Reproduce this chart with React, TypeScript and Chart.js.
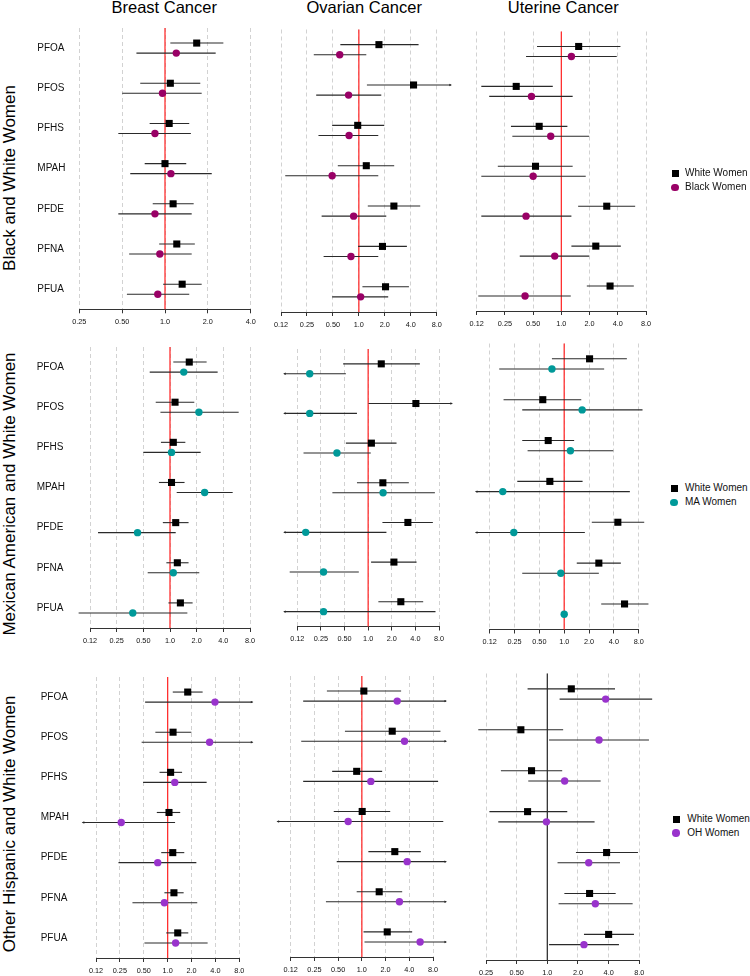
import React, { useEffect, useRef } from "react";
import { Chart, registerables } from "chart.js";

Chart.register(...registerables);

const FONT = '"Liberation Sans", Arial, Helvetica, sans-serif';

// ---------- labels ----------
const CHEMICALS = ["PFOA", "PFOS", "PFHS", "MPAH", "PFDE", "PFNA", "PFUA"];
const CANCERS = ["Breast Cancer", "Ovarian Cancer", "Uterine Cancer"];
const GROUPS = [
  "Black and White Women",
  "Mexican American and White Women",
  "Other Hispanic and White Women",
];
const REFERENCE_GROUP = "White Women";
const COMPARISON_GROUPS = ["Black Women", "MA Women", "OH Women"];
const COMPARISON_COLORS = ["#990066", "#009999", "#9933cc"];

// ---------- axis ticks ----------
const TICKS_FULL = [0.125, 0.25, 0.5, 1, 2, 4, 8];
const TICKS_QUARTER_TO_4 = [0.25, 0.5, 1, 2, 4];
const TICKS_QUARTER_TO_8 = [0.25, 0.5, 1, 2, 4, 8];
const TICK_TEXT: Record<string, string> = {
  "0.125": "0.12",
  "0.25": "0.25",
  "0.5": "0.50",
  "1": "1.0",
  "2": "2.0",
  "4": "4.0",
  "8": "8.0",
};
// confidence intervals are clipped (with an arrow) outside this range
const CLIP_RANGE = [0.085, 11.7];

// ---------- data: [odds ratio, lower CI, upper CI] per chemical ----------
const BW_BREAST_WHITE = [[1.67, 1.09, 2.57], [1.09, 0.67, 1.77], [1.07, 0.78, 1.48], [1.0, 0.72, 1.41], [1.14, 0.82, 1.59], [1.21, 0.91, 1.62], [1.32, 0.97, 1.81]];
const BW_BREAST_BLACK = [[1.2, 0.63, 2.27], [0.96, 0.5, 1.81], [0.85, 0.47, 1.52], [1.1, 0.57, 2.13], [0.85, 0.47, 1.54], [0.92, 0.56, 1.54], [0.89, 0.54, 1.48]];
const BW_OVARIAN_WHITE = [[1.71, 0.61, 4.93], [4.31, 1.24, 16], [0.97, 0.49, 1.97], [1.22, 0.57, 2.57], [2.55, 1.27, 5.15], [1.88, 0.98, 3.61], [2.04, 1.1, 3.81]];
const BW_OVARIAN_BLACK = [[0.6, 0.3, 1.22], [0.76, 0.32, 1.82], [0.77, 0.34, 1.68], [0.49, 0.14, 1.68], [0.87, 0.37, 2.08], [0.81, 0.39, 1.68], [1.05, 0.49, 2.19]];
const BW_UTERINE_WHITE = [[1.53, 0.55, 4.27], [0.33, 0.14, 0.81], [0.58, 0.29, 1.16], [0.53, 0.21, 1.32], [3.05, 1.51, 6.13], [2.33, 1.28, 4.31], [3.31, 1.87, 5.93]];
const BW_UTERINE_BLACK = [[1.28, 0.42, 3.9], [0.48, 0.17, 1.32], [0.77, 0.3, 1.98], [0.5, 0.14, 1.82], [0.42, 0.14, 1.28], [0.85, 0.36, 1.98], [0.41, 0.13, 1.26]];

const MA_BREAST_WHITE = [[1.65, 1.09, 2.59], [1.14, 0.69, 1.88], [1.09, 0.79, 1.49], [1.04, 0.75, 1.46], [1.16, 0.83, 1.62], [1.21, 0.91, 1.62], [1.31, 0.96, 1.8]];
const MA_BREAST_MA = [[1.43, 0.59, 3.45], [2.12, 0.78, 5.96], [1.04, 0.5, 2.22], [2.46, 1.19, 5.1], [0.43, 0.154, 1.16], [1.09, 0.56, 2.14], [0.38, 0.093, 1.57]];
const MA_OVARIAN_WHITE = [[1.47, 0.48, 4.56], [4.06, 1.01, 16], [1.1, 0.52, 2.3], [1.54, 0.72, 3.3], [3.21, 1.52, 6.68], [2.13, 1.09, 4.14], [2.61, 1.35, 5.03]];
const MA_OVARIAN_MA = [[0.18, 0.05, 0.52], [0.18, 0.05, 0.72], [0.4, 0.15, 1.08], [1.55, 0.35, 7.09], [0.16, 0.05, 1.71], [0.27, 0.1, 0.76], [0.27, 0.05, 7.22]];
const MA_UTERINE_WHITE = [[2.03, 0.71, 5.75], [0.55, 0.184, 1.61], [0.64, 0.31, 1.32], [0.67, 0.27, 1.67], [4.47, 2.16, 9.33], [2.63, 1.42, 4.86], [5.39, 2.81, 10.5]];
const MA_UTERINE_MA = [[0.71, 0.163, 3.05], [1.65, 0.31, 8.9], [1.19, 0.36, 3.93], [0.18, 0.05, 6.25], [0.245, 0.05, 1.78], [0.91, 0.31, 2.63], [1.0, null, null]];

const OH_BREAST_WHITE = [[1.79, 1.16, 2.76], [1.17, 0.7, 1.99], [1.09, 0.79, 1.52], [1.04, 0.73, 1.44], [1.16, 0.83, 1.62], [1.2, 0.91, 1.59], [1.34, 0.96, 1.82]];
const OH_BREAST_OH = [[3.95, 0.52, 16], [3.38, 0.47, 16], [1.23, 0.49, 3.1], [0.26, 0.05, 1.24], [0.75, 0.24, 2.3], [0.91, 0.36, 2.36], [1.26, 0.51, 3.19]];
const OH_OVARIAN_WHITE = [[1.06, 0.36, 3.15], [2.43, 0.61, 9.95], [0.86, 0.42, 1.81], [1.01, 0.44, 2.29], [2.62, 1.21, 5.6], [1.66, 0.86, 3.25], [2.1, 1.05, 4.35]];
const OH_OVARIAN_OH = [[2.81, 0.18, 16], [3.48, 0.17, 16], [1.3, 0.18, 9.29], [0.67, 0.05, 10.8], [3.76, 0.48, 16], [3.0, 0.35, 16], [5.49, 1.08, 16]];
const OH_UTERINE_WHITE = [[1.72, 0.64, 4.62], [0.55, 0.21, 1.43], [0.7, 0.35, 1.4], [0.64, 0.27, 1.57], [3.82, 1.91, 7.76], [2.6, 1.47, 4.69], [4.0, 2.29, 7.09]];
const OH_UTERINE_OH = [[3.74, 1.32, 10.7], [3.22, 1.04, 9.95], [1.48, 0.65, 3.34], [0.98, 0.33, 2.91], [2.55, 1.26, 5.17], [2.96, 1.29, 6.88], [2.29, 1.04, 5.05]];

// ---------- layout (pixel geometry of each panel's plot area) ----------
type Geo = { left: number; right: number; top: number; bottom: number; labelX?: number };
const PANEL_GEOMETRY: Geo[] = [
  { left: 79.3, right: 250.7, top: 28, bottom: 309.3, labelX: 37.3 },
  { left: 281, right: 436.7, top: 29.5, bottom: 312 },
  { left: 476.7, right: 646, top: 31.5, bottom: 311 },
  { left: 90, right: 250, top: 347, bottom: 628, labelX: 36.7 },
  { left: 297.3, right: 439, top: 349, bottom: 626.5 },
  { left: 489.7, right: 638.7, top: 343.5, bottom: 629.5 },
  { left: 96, right: 239.3, top: 677, bottom: 958, labelX: 40.7 },
  { left: 290.7, right: 433, top: 676, bottom: 957 },
  { left: 486, right: 639.3, top: 673.5, bottom: 960 },
];
const TITLE_CX = [164.2, 364.2, 563.3];
const ROW_TITLE_CY = [178.3, 494, 824];
const LEGEND_POS = [
  { x: 675, y: 173.3, tx: 685 },
  { x: 674, y: 488.3, tx: 685 },
  { x: 676, y: 819, tx: 687.3 },
];

type Row = (number | null)[];
type PanelSpec = {
  geo: Geo;
  white: Row[];
  other: Row[];
  color: string;
  ticks: number[];
  refColor: string;
};

const PANELS: PanelSpec[] = [
  { geo: PANEL_GEOMETRY[0], white: BW_BREAST_WHITE, other: BW_BREAST_BLACK, color: COMPARISON_COLORS[0], ticks: TICKS_QUARTER_TO_4, refColor: "#ff3030" },
  { geo: PANEL_GEOMETRY[1], white: BW_OVARIAN_WHITE, other: BW_OVARIAN_BLACK, color: COMPARISON_COLORS[0], ticks: TICKS_FULL, refColor: "#ff3030" },
  { geo: PANEL_GEOMETRY[2], white: BW_UTERINE_WHITE, other: BW_UTERINE_BLACK, color: COMPARISON_COLORS[0], ticks: TICKS_FULL, refColor: "#ff3030" },
  { geo: PANEL_GEOMETRY[3], white: MA_BREAST_WHITE, other: MA_BREAST_MA, color: COMPARISON_COLORS[1], ticks: TICKS_FULL, refColor: "#ff3030" },
  { geo: PANEL_GEOMETRY[4], white: MA_OVARIAN_WHITE, other: MA_OVARIAN_MA, color: COMPARISON_COLORS[1], ticks: TICKS_FULL, refColor: "#ff3030" },
  { geo: PANEL_GEOMETRY[5], white: MA_UTERINE_WHITE, other: MA_UTERINE_MA, color: COMPARISON_COLORS[1], ticks: TICKS_FULL, refColor: "#ff3030" },
  { geo: PANEL_GEOMETRY[6], white: OH_BREAST_WHITE, other: OH_BREAST_OH, color: COMPARISON_COLORS[2], ticks: TICKS_FULL, refColor: "#ff3030" },
  { geo: PANEL_GEOMETRY[7], white: OH_OVARIAN_WHITE, other: OH_OVARIAN_OH, color: COMPARISON_COLORS[2], ticks: TICKS_FULL, refColor: "#ff3030" },
  { geo: PANEL_GEOMETRY[8], white: OH_UTERINE_WHITE, other: OH_UTERINE_OH, color: COMPARISON_COLORS[2], ticks: TICKS_QUARTER_TO_8, refColor: "#333333" },
];

const OFFSET = 0.125;
const X_AXIS_H = 20;

function ForestPanel({ spec }: { spec: PanelSpec }) {
  const ref = useRef<HTMLCanvasElement>(null);
  const { geo } = spec;
  const showY = geo.labelX !== undefined;

  // canvas placement
  const canvasLeft = showY ? Math.floor((geo.labelX as number) - 4) : Math.floor(geo.left - 20);
  const canvasTop = Math.floor(geo.top - 12);
  const W = Math.ceil(geo.right + 20) - canvasLeft;
  const H = Math.ceil(geo.bottom + X_AXIS_H + 2) - canvasTop;
  const padL = showY ? (geo.labelX as number) - canvasLeft : geo.left - canvasLeft;
  const yW = showY ? geo.left - (geo.labelX as number) : 0;
  const padT = geo.top - canvasTop;
  const padR = W - (geo.right - canvasLeft);
  const padB = H - X_AXIS_H - (geo.bottom - canvasTop);

  useEffect(() => {
    const canvas = ref.current;
    if (!canvas) return;

    const forestPlugin = {
      id: "forestLines",
      beforeDatasetsDraw(chart: any) {
        const { ctx, chartArea, scales } = chart;
        const x = scales.x;
        const y = scales.y;
        ctx.save();
        // reference line at OR = 1
        const rx = x.getPixelForValue(1);
        ctx.strokeStyle = spec.refColor;
        ctx.lineWidth = 1.3;
        ctx.beginPath();
        ctx.moveTo(rx, chartArea.top);
        ctx.lineTo(rx, chartArea.bottom);
        ctx.stroke();

        const drawArrow = (px: number, py: number, dir: number) => {
          ctx.beginPath();
          ctx.moveTo(px + dir * 1, py);
          ctx.lineTo(px - dir * 1.6, py - 1.2);
          ctx.lineTo(px - dir * 1.6, py + 1.2);
          ctx.closePath();
          ctx.fill();
        };

        const groups = [
          { rows: spec.white, off: -OFFSET },
          { rows: spec.other, off: OFFSET },
        ];
        ctx.strokeStyle = "#2a2a2a";
        ctx.fillStyle = "#2a2a2a";
        ctx.lineWidth = 1.1;
        groups.forEach(({ rows, off }) => {
          rows.forEach((r, i) => {
            const lo = r[1];
            const hi = r[2];
            if (lo == null || hi == null) return;
            const py = y.getPixelForValue(i + 1 + off);
            const loC = Math.max(lo, CLIP_RANGE[0]);
            const hiC = Math.min(hi, CLIP_RANGE[1]);
            const x1 = x.getPixelForValue(loC);
            const x2 = x.getPixelForValue(hiC);
            ctx.beginPath();
            ctx.moveTo(x1, py);
            ctx.lineTo(x2, py);
            ctx.stroke();
            if (lo < CLIP_RANGE[0]) drawArrow(x1, py, -1);
            if (hi > CLIP_RANGE[1]) drawArrow(x2, py, 1);
          });
        });
        ctx.restore();
      },
    };

    const tickVals = spec.ticks;
    const chart = new Chart(canvas, {
      type: "scatter",
      data: {
        datasets: [
          {
            label: REFERENCE_GROUP,
            data: spec.white.map((r, i) => ({ x: r[0] as number, y: i + 1 - OFFSET })),
            pointStyle: "rect",
            pointRadius: 5,
            pointHoverRadius: 5,
            backgroundColor: "#000000",
            borderWidth: 0,
            clip: false,
          },
          {
            label: "comparison",
            data: spec.other.map((r, i) => ({ x: r[0] as number, y: i + 1 + OFFSET })),
            pointStyle: "circle",
            pointRadius: 3.7,
            pointHoverRadius: 3.7,
            backgroundColor: spec.color,
            borderWidth: 0,
            clip: false,
          },
        ],
      },
      options: {
        animation: false,
        responsive: false,
        devicePixelRatio: 1,
        events: [],
        layout: { padding: { left: padL, right: padR, top: padT, bottom: padB } },
        plugins: { legend: { display: false }, tooltip: { enabled: false } },
        scales: {
          x: {
            type: "logarithmic",
            position: "bottom",
            min: tickVals[0],
            max: tickVals[tickVals.length - 1],
            afterBuildTicks: (axis: any) => {
              axis.ticks = tickVals.map((v) => ({ value: v }));
            },
            afterFit: (axis: any) => {
              axis.height = X_AXIS_H;
            },
            ticks: {
              autoSkip: false,
              maxRotation: 0,
              minRotation: 0,
              padding: 4.5,
              color: "#111111",
              font: { family: FONT, size: 7.3 },
              callback: (v: any) => TICK_TEXT[String(v)] ?? "",
            },
            grid: {
              display: true,
              drawOnChartArea: true,
              drawTicks: true,
              tickLength: 4,
              color: "#d2d2d2",
              tickColor: "#333333",
              lineWidth: 1,
              tickWidth: 1,
            },
            border: { display: true, color: "#333333", width: 1, dash: [4, 3] },
          },
          y: {
            type: "linear",
            reverse: true,
            min: 0.5,
            max: 7.5,
            display: showY,
            afterBuildTicks: (axis: any) => {
              axis.ticks = CHEMICALS.map((_, i) => ({ value: i + 1 }));
            },
            afterFit: (axis: any) => {
              axis.width = yW;
            },
            ticks: {
              autoSkip: false,
              crossAlign: "far",
              color: "#111111",
              font: { family: FONT, size: 10 },
              callback: (v: any) => CHEMICALS[Math.round(v) - 1] ?? "",
            },
            grid: { display: false },
            border: { display: false },
          },
        },
      } as any,
      plugins: [forestPlugin],
    });
    return () => chart.destroy();
  }, []);

  return (
    <canvas
      ref={ref}
      width={W}
      height={H}
      style={{ position: "absolute", left: canvasLeft, top: canvasTop, width: W, height: H }}
    />
  );
}

function Legend({ idx }: { idx: number }) {
  const p = LEGEND_POS[idx];
  const textStyle: React.CSSProperties = {
    position: "absolute",
    left: p.tx,
    fontSize: 10,
    lineHeight: "12px",
    whiteSpace: "nowrap",
    color: "#111",
  };
  return (
    <>
      <div style={{ position: "absolute", left: p.x - 3.5, top: p.y - 3.5, width: 7, height: 7, background: "#000" }} />
      <div style={{ ...textStyle, top: p.y - 6 }}>{REFERENCE_GROUP}</div>
      <div
        style={{
          position: "absolute",
          left: p.x - 3.7,
          top: p.y + 14 - 3.7,
          width: 7.4,
          height: 7.4,
          borderRadius: "50%",
          background: COMPARISON_COLORS[idx],
        }}
      />
      <div style={{ ...textStyle, top: p.y + 14 - 6 }}>{COMPARISON_GROUPS[idx]}</div>
    </>
  );
}

export default function App() {
  return (
    <div
      style={{
        position: "absolute",
        left: 0,
        top: 0,
        width: 750,
        height: 976,
        overflow: "hidden",
        background: "#ffffff",
        fontFamily: FONT,
        color: "#000",
      }}
    >
      {CANCERS.map((c, i) => (
        <div
          key={c}
          style={{
            position: "absolute",
            left: TITLE_CX[i] - 100,
            width: 200,
            top: -1,
            textAlign: "center",
            fontSize: 16.5,
            lineHeight: "16.5px",
            whiteSpace: "nowrap",
          }}
        >
          {c}
        </div>
      ))}
      {GROUPS.map((g, i) => (
        <div
          key={g}
          style={{
            position: "absolute",
            left: 8.5,
            top: ROW_TITLE_CY[i],
            transform: "translate(-50%, -50%) rotate(-90deg)",
            whiteSpace: "nowrap",
            fontSize: 17,
            lineHeight: "17px",
          }}
        >
          {g}
        </div>
      ))}
      {PANELS.map((p, i) => (
        <ForestPanel key={i} spec={p} />
      ))}
      {[0, 1, 2].map((i) => (
        <Legend key={i} idx={i} />
      ))}
    </div>
  );
}
